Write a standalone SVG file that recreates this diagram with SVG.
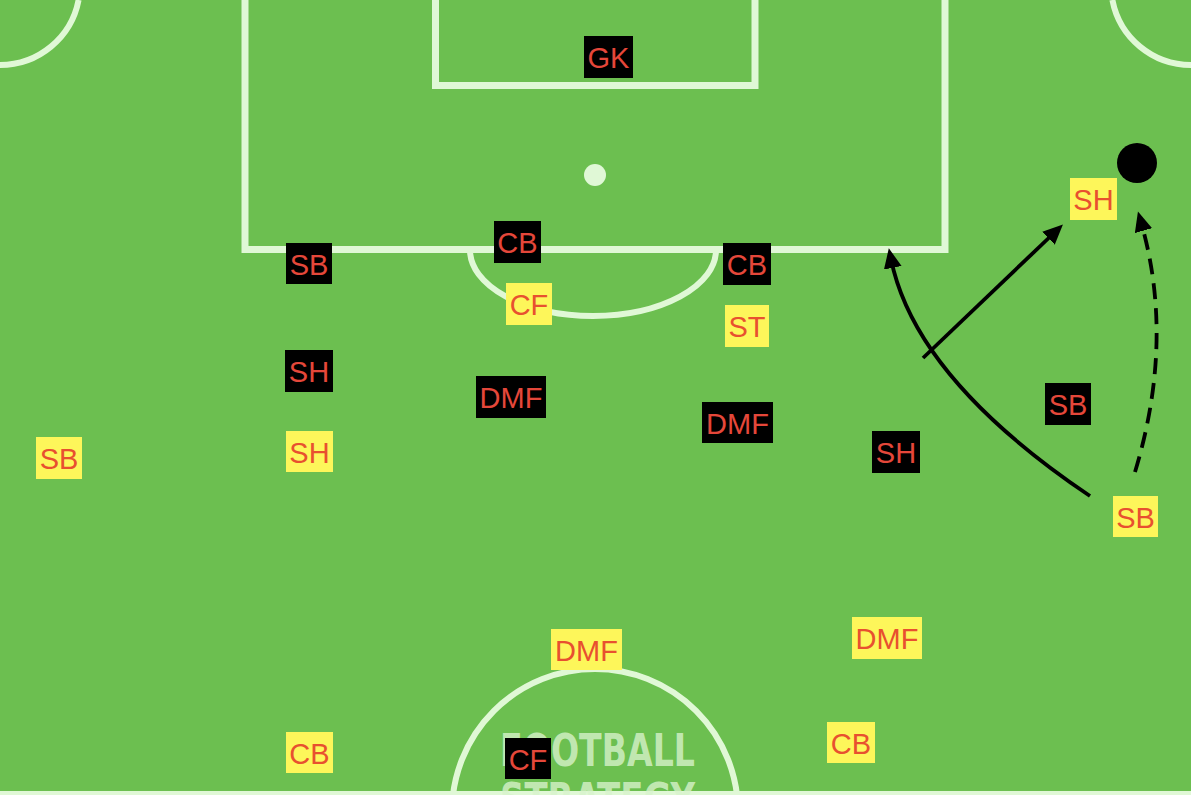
<svg xmlns="http://www.w3.org/2000/svg" width="1191" height="795" viewBox="0 0 1191 795">
  <defs>
    <style>
      .line { fill: none; stroke: #e0f8d6; }
      .box { stroke-width: 7; }
      .arc { stroke-width: 6; }
      .lbl { font-family: "Liberation Sans", Arial, sans-serif; font-size: 29px; text-anchor: middle; }
      .blk rect { fill: #000000; }
      .blk text { fill: #e5473a; }
      .yel rect { fill: #fdf65a; }
      .yel text { fill: #e8502f; }
      .conn { fill: none; stroke: #000000; stroke-width: 3.8; }
      .wm { font-family: "DejaVu Sans Condensed", "DejaVu Sans", sans-serif; font-weight: bold; font-size: 44px; fill: #d8f3cc; fill-opacity: 0.8; }
    </style>
    <marker id="head" markerUnits="userSpaceOnUse" markerWidth="22" markerHeight="20" refX="9" refY="9" orient="auto">
      <path d="M0,0 L20,9 L0,18 Z" fill="#000000"/>
    </marker>
  </defs>

  <!-- pitch -->
  <g id="pitch">
    <rect x="0" y="0" width="1191" height="795" fill="#6cbf50"/>
    <rect class="line box" x="245" y="-20" width="700" height="269.5"/>
    <rect class="line box" x="435.5" y="-20" width="319.5" height="105.5"/>
    <circle cx="595" cy="175" r="11" fill="#e0f8d6"/>
    <path class="line arc" d="M470,250 A123,66 0 0 0 716,250"/>
    <path class="line arc" d="M78.6,0 A80,80 0 0 1 0,65"/>
    <path class="line arc" d="M1112.4,0 A80,80 0 0 0 1191,65"/>
    <circle class="line arc" cx="595" cy="812" r="143"/>
    <line class="line" x1="0" y1="793" x2="1191" y2="793" stroke-width="4"/>
  </g>

  <!-- watermark -->
  <g id="watermark">
    <text class="wm" x="500" y="766" textLength="195" lengthAdjust="spacingAndGlyphs">FOOTBALL</text>
    <text class="wm" x="500" y="815" textLength="195" lengthAdjust="spacingAndGlyphs">STRATEGY</text>
  </g>

  <!-- connectors -->
  <g id="connectors">
    <path class="conn" d="M1090,496 Q915,378 891,259" marker-end="url(#head)"/>
    <path class="conn" d="M923,358 L1055,232" marker-end="url(#head)"/>
    <path class="conn" d="M1135,472 Q1175,340 1141,222" stroke-dasharray="16 9" marker-end="url(#head)"/>
  </g>

  <!-- ball -->
  <g id="ball">
    <circle cx="1137" cy="163" r="20" fill="#000000"/>
  </g>

  <!-- nodes -->
  <g id="gk-black" class="blk"><rect x="584" y="36" width="49" height="42"/><text class="lbl" x="608.5" y="68">GK</text></g>
  <g id="sb-black-left" class="blk"><rect x="286" y="243" width="46" height="41"/><text class="lbl" x="309" y="275">SB</text></g>
  <g id="cb-black-left" class="blk"><rect x="494" y="221" width="47" height="42"/><text class="lbl" x="517.5" y="253">CB</text></g>
  <g id="cf-yellow" class="yel"><rect x="506" y="283" width="46" height="42"/><text class="lbl" x="529" y="315">CF</text></g>
  <g id="cb-black-right" class="blk"><rect x="723" y="243" width="48" height="42"/><text class="lbl" x="747" y="275">CB</text></g>
  <g id="st-yellow" class="yel"><rect x="725" y="305" width="44" height="42"/><text class="lbl" x="747" y="337">ST</text></g>
  <g id="sh-black-left" class="blk"><rect x="285" y="350" width="48" height="42"/><text class="lbl" x="309" y="382">SH</text></g>
  <g id="dmf-black-center" class="blk"><rect x="476" y="376" width="70" height="42"/><text class="lbl" x="511" y="408">DMF</text></g>
  <g id="dmf-black-right" class="blk"><rect x="702" y="402" width="71" height="41"/><text class="lbl" x="737.5" y="434">DMF</text></g>
  <g id="sh-black-right" class="blk"><rect x="872" y="431" width="48" height="42"/><text class="lbl" x="896" y="463">SH</text></g>
  <g id="sb-black-right" class="blk"><rect x="1045" y="383" width="46" height="42"/><text class="lbl" x="1068" y="415">SB</text></g>
  <g id="sh-yellow-right" class="yel"><rect x="1070" y="178" width="47" height="42"/><text class="lbl" x="1093.5" y="210">SH</text></g>
  <g id="sb-yellow-right" class="yel"><rect x="1113" y="496" width="45" height="41"/><text class="lbl" x="1135.5" y="528">SB</text></g>
  <g id="sb-yellow-left" class="yel"><rect x="36" y="437" width="46" height="42"/><text class="lbl" x="59" y="469">SB</text></g>
  <g id="sh-yellow-left" class="yel"><rect x="286" y="431" width="47" height="41"/><text class="lbl" x="309.5" y="463">SH</text></g>
  <g id="dmf-yellow-center" class="yel"><rect x="551" y="629" width="71" height="41"/><text class="lbl" x="586.5" y="661">DMF</text></g>
  <g id="dmf-yellow-right" class="yel"><rect x="852" y="617" width="70" height="42"/><text class="lbl" x="887" y="649">DMF</text></g>
  <g id="cf-black-bottom" class="blk"><rect x="505" y="738" width="46" height="41"/><text class="lbl" x="528" y="770">CF</text></g>
  <g id="cb-yellow-right" class="yel"><rect x="827" y="722" width="48" height="41"/><text class="lbl" x="851" y="754">CB</text></g>
  <g id="cb-yellow-left" class="yel"><rect x="286" y="732" width="47" height="41"/><text class="lbl" x="309.5" y="764">CB</text></g>
</svg>
